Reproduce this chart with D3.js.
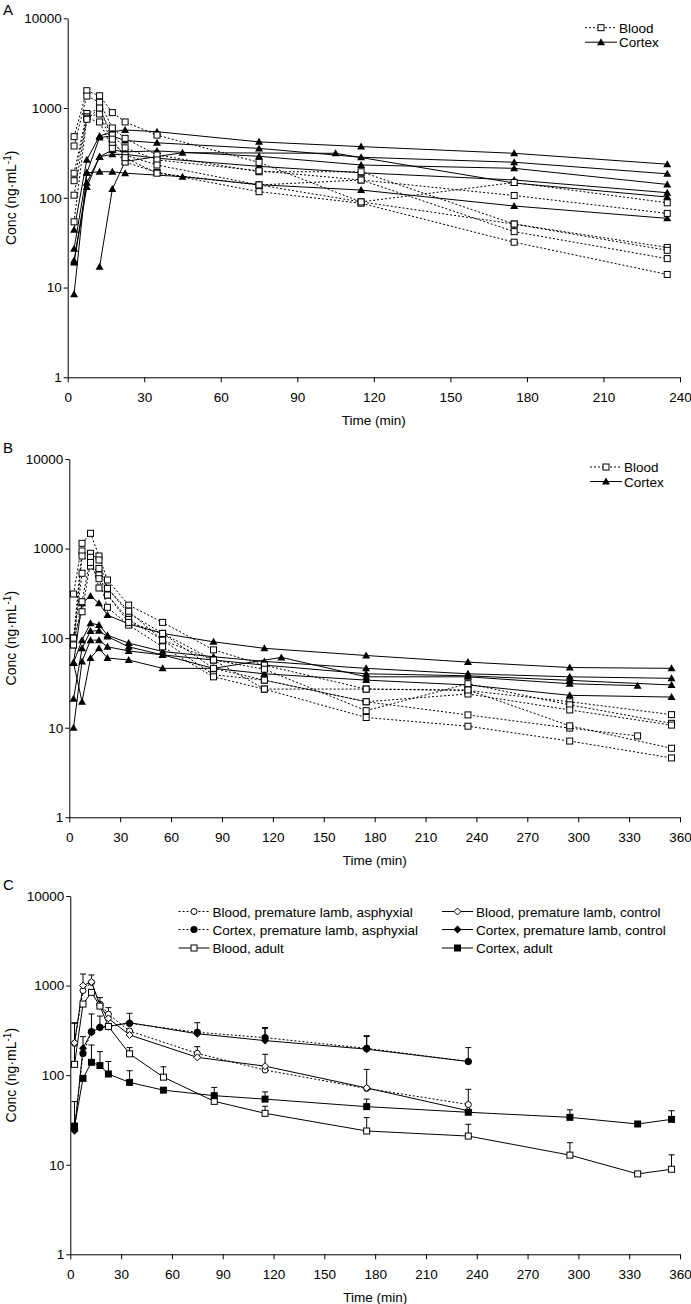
<!DOCTYPE html>
<html><head><meta charset="utf-8">
<script src="https://cdn.jsdelivr.net/npm/d3@7"></script>
<style>body{margin:0;background:#fff}svg{display:block}text{font-family:"Liberation Sans",Arial,sans-serif}</style>
</head><body>
<svg id="chart" width="691" height="1304"></svg>
<script>
// ---------- DATA ----------
const yTicks = [1, 10, 100, 1000, 10000];
const xTicksA = [0, 30, 60, 90, 120, 150, 180, 210, 240];
const xTicksBC = [0, 30, 60, 90, 120, 150, 180, 210, 240, 270, 300, 330, 360];

// Panel A (individual animals) [time, conc]
const bloodA1 = [[2.5,480],[7.5,1560],[12.5,1370],[17.5,890],[22.5,700],[35,500],[75,248],[115,90],[175,148],[235,88]];
const bloodA2 = [[2.5,378],[7.5,1360],[12.5,1160],[17.5,600],[22.5,460],[35,300],[75,195],[115,195],[175,51],[235,28]];
const bloodA3 = [[2.5,188],[7.5,870],[12.5,985],[17.5,500],[22.5,360],[35,264],[75,200],[115,158],[175,106],[235,67]];
const bloodA4 = [[2.5,155],[7.5,800],[12.5,860],[17.5,410],[22.5,300],[35,232],[75,139],[115,158],[175,42],[235,21]];
const bloodA5 = [[2.5,107],[7.5,770],[12.5,700],[17.5,356],[22.5,250],[35,192],[75,117],[115,87],[175,32],[235,14]];
const bloodA6 = [[2.5,54],[7.5,750],[12.5,1000],[17.5,450],[22.5,280],[35,188],[75,139],[115,90],[175,51],[235,26]];
const cortexA1 = [[2.5,44],[7.5,265],[12.5,488],[17.5,545],[22.5,570],[35,545],[75,420],[115,372],[175,313],[235,237]];
const cortexA2 = [[2.5,27],[7.5,190],[12.5,470],[17.5,488],[22.5,435],[35,410],[75,355],[115,283],[175,249],[235,185]];
const cortexA3 = [[2.5,20],[7.5,147],[12.5,287],[17.5,341],[22.5,325],[35,333],[75,290],[115,232],[175,213],[235,141]];
const cortexA4 = [[2.5,19],[7.5,132],[12.5,287],[17.5,305],[22.5,305],[35,276],[75,224],[115,190],[175,158],[235,114]];
const cortexA5 = [[2.5,8.4],[7.5,190],[12.5,195],[17.5,195],[22.5,188],[45,172],[75,140],[115,122],[175,81],[235,59]];
const cortexA6 = [[12.5,17],[17.5,125],[22.5,254],[45,318],[105,313],[175,146],[235,102]];

// Panel B (individual animals)
const bloodB1 = [[2.5,311],[7.5,1145],[12.5,1480],[17.5,826],[22.5,446],[35,234],[55,150],[85,74],[115,50],[175,27],[235,26],[295,19.5],[355,14]];
const bloodB2 = [[2.5,101],[7.5,940],[12.5,886],[17.5,746],[22.5,360],[35,189],[55,113],[85,57],[115,45],[175,15.5],[235,31],[295,18],[355,11.2]];
const bloodB3 = [[2.5,84],[7.5,826],[12.5,713],[17.5,507],[22.5,303],[35,162],[55,95],[85,39],[115,34],[175,19.5],[235,23.8],[295,15.8],[355,10.7]];
const bloodB4 = [[2.5,90],[7.5,530],[12.5,639],[17.5,461],[22.5,221],[35,140],[55,80],[85,37],[115,27],[175,13],[235,10.4],[295,7.1],[355,4.6]];
const bloodB5 = [[2.5,84],[7.5,255],[12.5,800],[17.5,363],[22.5,303],[35,150],[55,113],[85,46],[115,34],[175,19.5],[235,13.9],[295,9.9],[335,8.1]];
const bloodB6 = [[2.5,100],[7.5,197],[12.5,700],[17.5,600],[22.5,360],[35,200],[55,95],[85,57],[115,27],[175,27],[235,26.4],[295,10.5],[355,5.9]];
const cortexB1 = [[2.5,53],[7.5,245],[12.5,296],[17.5,245],[22.5,181],[35,144],[55,113],[85,91],[115,77],[175,64],[235,54],[295,47],[355,46]];
const cortexB2 = [[2.5,53],[7.5,95],[12.5,147],[17.5,140],[22.5,108],[35,88],[55,71],[85,62],[115,55],[175,46],[235,40],[295,37],[355,35.6]];
const cortexB3 = [[2.5,21],[7.5,77],[12.5,120],[17.5,121],[22.5,104],[35,80],[55,65],[85,57],[115,50],[175,40],[235,38],[295,33.8],[355,30]];
const cortexB4 = [[2.5,10],[7.5,55],[12.5,95],[17.5,95],[22.5,80],[35,72],[55,65],[85,46],[125,61],[175,37],[235,37],[295,31],[335,29.5]];
const cortexB5 = [[2.5,53],[7.5,19.5],[12.5,60],[17.5,77],[22.5,60],[35,57],[55,46],[85,46],[115,40],[175,34],[235,30],[295,23],[355,22]];

// Panel C (means with upper error bars)
const timesLamb = [2.5, 7.5, 12.5, 17.5, 22.5, 35, 75, 115, 175, 235];
const bloodAsph = [226, 880, 1087, 620, 480, 311, 175, 114, 71, 47];
const bloodAsphErr = [385, 1346, 1313, null, 567, null, 208, null, null, 69.5];
const bloodCtrl = [230, 1000, 1100, 600, 430, 281, 158, 126, 72, 40];
const bloodCtrlErr = [null, null, null, null, null, null, null, 171, 116, null];
const cortexAsph = [25.5, 175, 306, 342, 350, 379, 301, 262, 199, 142];
const cortexAsphErr = [null, 269, 482, 457, null, 490, 385, 333, 276, 203];
const cortexCtrl = [24, 200, 300, 340, 350, 385, 290, 243, 195, 142];
const cortexCtrlErr = [null, null, null, null, null, null, null, 340, 270, null];
const timesAdult = [2.5, 7.5, 12.5, 17.5, 22.5, 35, 55, 85, 115, 175, 235, 295, 335, 355];
const bloodAdult = [132, 622, 841, 590, 350, 173, 95, 51, 37.5, 23.8, 20.9, 12.8, 7.9, 8.9];
const bloodAdultErr = [379, null, null, 734, null, 203, 124, null, 45, 33.6, 28.3, 17.6, null, 12.9];
const cortexAdult = [27, 92, 139, 128, 103, 83, 68, 59, 54, 44.5, 38.5, 33.8, 28.5, 32.1];
const cortexAdultErr = [50.7, null, 217, 183, 142, 112, null, 73, 65, 54, null, 41, null, 40];

const legendAB = ["Blood", "Cortex"];
const legendC = ["Blood, premature lamb, asphyxial", "Blood, premature lamb, control",
  "Cortex, premature lamb, asphyxial", "Cortex, premature lamb, control",
  "Blood, adult", "Cortex, adult"];

// ---------- DRAWING ----------
const svg = d3.select("#chart");
const FONT = 13.5;

function symbol(g, type, cx, cy) {
  if (type === "sq") g.append("rect").attr("x", cx-3).attr("y", cy-3).attr("width", 6).attr("height", 6).attr("fill", "#fff").attr("stroke", "#000").attr("stroke-width", 1);
  else if (type === "sqF") g.append("rect").attr("x", cx-3.5).attr("y", cy-3.5).attr("width", 7).attr("height", 7).attr("fill", "#000");
  else if (type === "tri") g.append("path").attr("d", `M${cx},${cy-4}L${cx+4},${cy+3}L${cx-4},${cy+3}Z`).attr("fill", "#000");
  else if (type === "circO") g.append("circle").attr("cx", cx).attr("cy", cy).attr("r", 3).attr("fill", "#fff").attr("stroke", "#000");
  else if (type === "circF") g.append("circle").attr("cx", cx).attr("cy", cy).attr("r", 3.6).attr("fill", "#000");
  else if (type === "diaO") g.append("path").attr("d", `M${cx},${cy-3.5}L${cx+3.5},${cy}L${cx},${cy+3.5}L${cx-3.5},${cy}Z`).attr("fill", "#fff").attr("stroke", "#000");
  else if (type === "diaF") g.append("path").attr("d", `M${cx},${cy-4}L${cx+4},${cy}L${cx},${cy+4}L${cx-4},${cy}Z`).attr("fill", "#000");
}

function panel(cfg) {
  const g = svg.append("g");
  const x = d3.scaleLinear().domain([0, cfg.xmax]).range([cfg.x0, cfg.x1]);
  const y = d3.scaleLog().domain([1, 10000]).range([cfg.yb, cfg.yt]);
  const ax = g.append("g").attr("transform", `translate(0,${cfg.yb})`)
    .call(d3.axisBottom(x).tickValues(cfg.xticks).tickSize(5).tickSizeOuter(0).tickPadding(10).tickFormat(d3.format("d")));
  const ay = g.append("g").attr("transform", `translate(${cfg.x0},0)`)
    .call(d3.axisLeft(y).tickValues(yTicks).tickSize(4).tickSizeOuter(0).tickPadding(2).tickFormat(d3.format("d")));
  [ax, ay].forEach(a => {
    a.attr("font-family", null).attr("font-size", null);
    a.selectAll("text").attr("font-size", FONT).attr("fill", "#000");
    a.selectAll("line,path").attr("stroke", "#000").attr("stroke-width", 1);
  });
  g.append("text").attr("x", (cfg.x0 + cfg.x1)/2).attr("y", cfg.yb + 48).attr("text-anchor", "middle").attr("font-size", FONT).text("Time (min)");
  const yl = g.append("text").attr("transform", `translate(16,${(cfg.yt + cfg.yb)/2}) rotate(-90)`).attr("text-anchor", "middle").attr("font-size", 14);
  yl.append("tspan").text("Conc (ng·mL");
  yl.append("tspan").attr("font-size", 10).attr("dy", -5).text("-1");
  yl.append("tspan").attr("dy", 5).text(")");
  g.append("text").attr("x", 3).attr("y", cfg.letterY).attr("font-size", 15).text(cfg.letter);
  return {g, x, y};
}

function drawSeries(p, data, dashed, sym) {
  const line = d3.line().x(d => p.x(d[0])).y(d => p.y(d[1]));
  p.g.append("path").attr("d", line(data)).attr("fill", "none").attr("stroke", "#000").attr("stroke-width", 1)
    .attr("stroke-dasharray", dashed ? "2,2" : null);
  return () => data.forEach(d => symbol(p.g, sym, p.x(d[0]), p.y(d[1])));
}

function drawAB(cfg, bloods, cortices, legX, legY) {
  const p = panel(cfg);
  const markers = [];
  cortices.forEach(s => markers.push(drawSeries(p, s, false, "tri")));
  bloods.forEach(s => markers.push(drawSeries(p, s, true, "sq")));
  markers.forEach(m => m());
  // legend
  const lg = p.g.append("g");
  [["sq", true], ["tri", false]].forEach((it, i) => {
    const cy = legY + i*14.5;
    lg.append("line").attr("x1", legX).attr("x2", legX + 32).attr("y1", cy).attr("y2", cy).attr("stroke", "#000").attr("stroke-dasharray", it[1] ? "2,2" : null);
    symbol(lg, it[0], legX + 16, cy);
    lg.append("text").attr("x", legX + 34).attr("y", cy + 5).attr("font-size", FONT).text(legendAB[i]);
  });
}

drawAB({x0: 67.7, x1: 680, yt: 18.3, yb: 377.3, xmax: 240, xticks: xTicksA, letter: "A", letterY: 15},
  [bloodA1, bloodA2, bloodA3, bloodA4, bloodA5, bloodA6],
  [cortexA1, cortexA2, cortexA3, cortexA4, cortexA5, cortexA6], 585, 27.7);

drawAB({x0: 69.3, x1: 680, yt: 459, yb: 817.3, xmax: 360, xticks: xTicksBC, letter: "B", letterY: 453},
  [bloodB1, bloodB2, bloodB3, bloodB4, bloodB5, bloodB6],
  [cortexB1, cortexB2, cortexB3, cortexB4, cortexB5], 590, 467);

// Panel C
(function() {
  const p = panel({x0: 70.3, x1: 680, yt: 896, yb: 1254.3, xmax: 360, xticks: xTicksBC, letter: "C", letterY: 890});
  const series = [
    {t: timesLamb, v: bloodAsph, e: bloodAsphErr, dash: true, sym: "circO"},
    {t: timesLamb, v: bloodCtrl, e: bloodCtrlErr, dash: false, sym: "diaO"},
    {t: timesLamb, v: cortexAsph, e: cortexAsphErr, dash: true, sym: "circF"},
    {t: timesLamb, v: cortexCtrl, e: cortexCtrlErr, dash: false, sym: "diaF"},
    {t: timesAdult, v: bloodAdult, e: bloodAdultErr, dash: false, sym: "sq"},
    {t: timesAdult, v: cortexAdult, e: cortexAdultErr, dash: false, sym: "sqF"}
  ];
  // error bars
  series.forEach(s => s.t.forEach((t, i) => {
    if (s.e[i] == null) return;
    const cx = p.x(t), y0 = p.y(s.v[i]), y1 = p.y(s.e[i]);
    p.g.append("line").attr("x1", cx).attr("x2", cx).attr("y1", y0).attr("y2", y1).attr("stroke", "#000");
    p.g.append("line").attr("x1", cx-3).attr("x2", cx+3).attr("y1", y1).attr("y2", y1).attr("stroke", "#000");
  }));
  const marks = series.map(s => drawSeries(p, s.t.map((t, i) => [t, s.v[i]]), s.dash, s.sym));
  marks.forEach(m => m());
  // legend
  const lg = p.g.append("g");
  const cols = [178.5, 442];
  const rows = [911.5, 929.5, 948];
  series.forEach((s, i) => {
    const lx = cols[i % 2], cy = rows[Math.floor(i/2)];
    lg.append("line").attr("x1", lx).attr("x2", lx + 31).attr("y1", cy).attr("y2", cy).attr("stroke", "#000").attr("stroke-dasharray", s.dash ? "2,2" : null);
    symbol(lg, s.sym, lx + 15.5, cy);
    lg.append("text").attr("x", lx + 34).attr("y", cy + 5).attr("font-size", FONT).text(legendC[i]);
  });
})();
</script>
</body></html>
